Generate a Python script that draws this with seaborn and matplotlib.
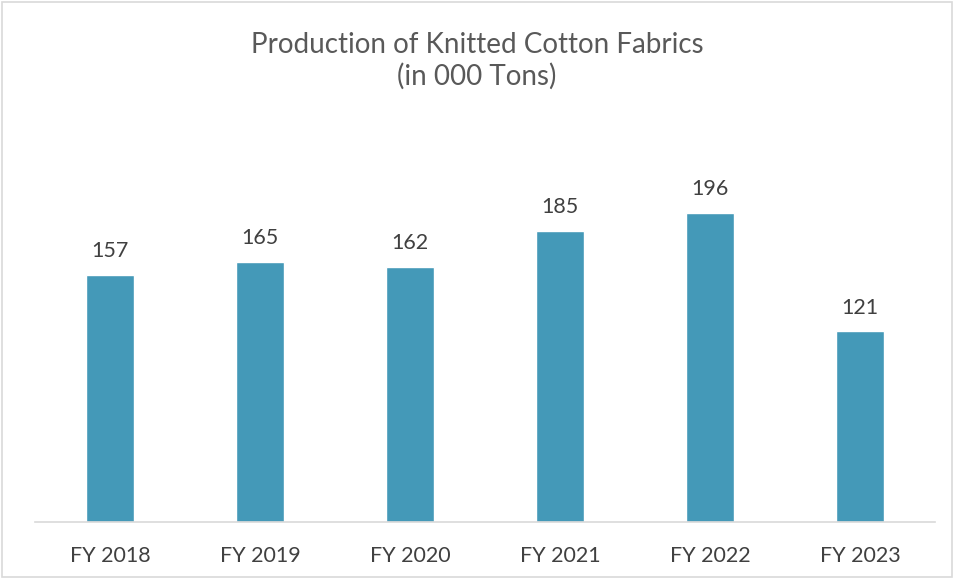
import pandas as pd
import matplotlib
matplotlib.use("Agg")
import matplotlib.pyplot as plt
import seaborn as sns
from matplotlib.patches import Rectangle

years = ["FY 2018", "FY 2019", "FY 2020", "FY 2021", "FY 2022", "FY 2023"]
production = [157, 165, 162, 185, 196, 121]

df = pd.DataFrame({"Year": years, "Production": production})

sns.set_theme(style="white")
plt.rcParams['font.family'] = ['Lato', 'DejaVu Sans']

fig = plt.figure(figsize=(9.54, 5.79), dpi=100)
ax = fig.add_axes([0.0367, 0.0984, 0.9433, 0.68])

sns.barplot(data=df, x="Year", y="Production", color="#4499B8",
            width=0.32, saturation=1, ax=ax)

# value labels above the bars
for container in ax.containers:
    ax.bar_label(container, fmt="%d", padding=10, fontsize=15.5, color="#404040")

ax.set_ylim(0, 250)
ax.set_xlim(-0.5, 5.5)
ax.set_xlabel("")
ax.set_ylabel("")
ax.set_yticks([])
ax.tick_params(axis="x", labelsize=15.5, colors="#404040", length=0, pad=17)
for side in ["top", "right", "left"]:
    ax.spines[side].set_visible(False)
ax.spines["bottom"].set_color("#D9D9D9")
ax.spines["bottom"].set_linewidth(1.2)

fig.text(0.5, 0.895, "Production of Knitted Cotton Fabrics\n(in 000 Tons)",
         ha="center", va="center", fontsize=20, color="#595959", linespacing=1.2)

# light grey frame around the chart area
fig.patches.append(Rectangle((0.002, 0.003), 0.996, 0.994, transform=fig.transFigure,
                             fill=False, edgecolor="#D9D9D9", linewidth=1.2))

fig.savefig("out.png", dpi=100)
